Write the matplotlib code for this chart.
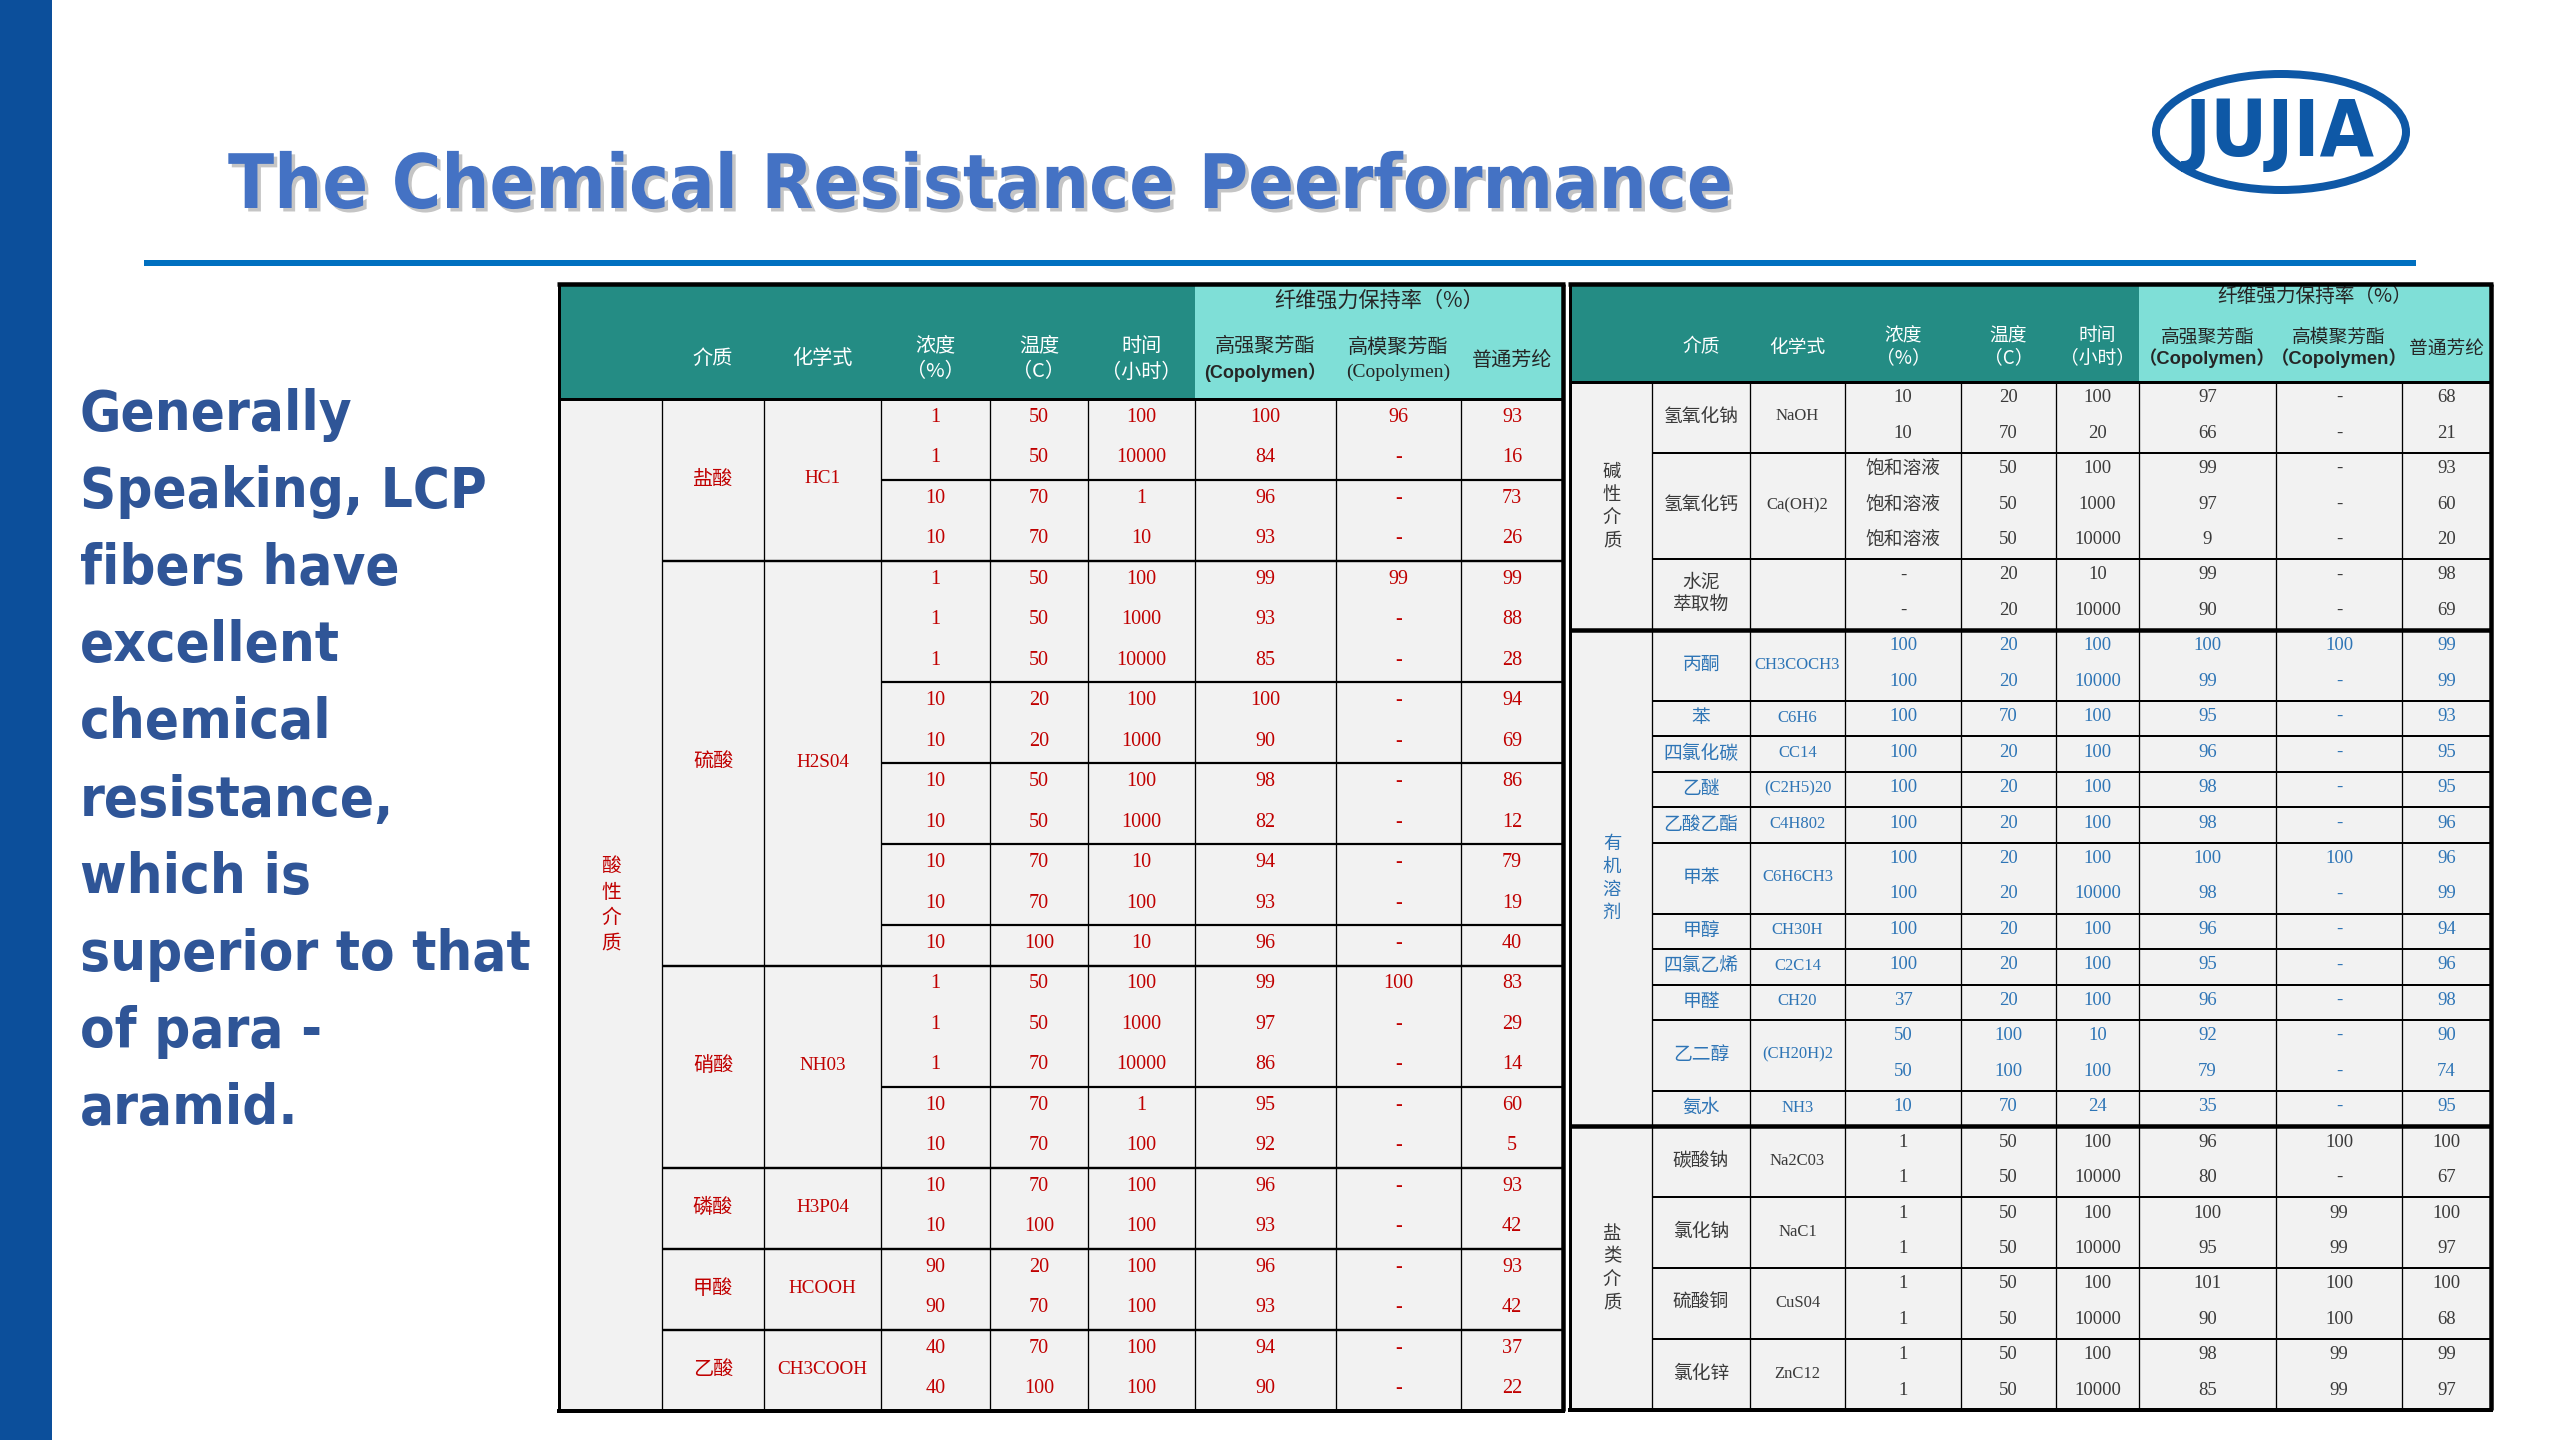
import matplotlib
matplotlib.use('Agg')
import matplotlib.pyplot as plt
from matplotlib.patches import Rectangle, Ellipse
import matplotlib.patheffects as pe
from matplotlib.font_manager import FontProperties

# ------------------------------------------------------------------ data
title_text = 'The Chemical Resistance Peerformance'
side_lines = ['Generally', 'Speaking, LCP', 'fibers have', 'excellent', 'chemical',
              'resistance,', 'which is', 'superior to that', 'of para -', 'aramid.']
logo_text = 'JUJIA'

hdr_media = '介质'
hdr_formula = '化学式'
hdr_conc = ['浓度', '（%）']
hdr_temp = ['温度', '（C）']
hdr_time = ['时间', '（小时）']
hdr_retention = '纤维强力保持率（%）'
hdr_hs = '高强聚芳酯'
hdr_hm = '高模聚芳酯'
hdr_para = '普通芳纶'
left_copoly = ['(Copolymen）', '(Copolymen)']
right_copoly = ['（Copolymen）', '（Copolymen）']

# left table : acid media
acid_category = '酸性介质'
acid_media = ['盐酸', '硫酸', '硝酸', '磷酸', '甲酸', '乙酸']
acid_formula = ['HC1', 'H2S04', 'NH03', 'H3P04', 'HCOOH', 'CH3COOH']
acid_rows = [4, 10, 5, 2, 2, 2]
acid_subgroups = [[2, 2], [3, 2, 2, 2, 1], [3, 2], [2], [2], [2]]
acid_conc = ['1', '1', '10', '10',
             '1', '1', '1', '10', '10', '10', '10', '10', '10', '10',
             '1', '1', '1', '10', '10',
             '10', '10', '90', '90', '40', '40']
acid_temp = ['50', '50', '70', '70',
             '50', '50', '50', '20', '20', '50', '50', '70', '70', '100',
             '50', '50', '70', '70', '70',
             '70', '100', '20', '70', '70', '100']
acid_time = ['100', '10000', '1', '10',
             '100', '1000', '10000', '100', '1000', '100', '1000', '10', '100', '10',
             '100', '1000', '10000', '1', '100',
             '100', '100', '100', '100', '100', '100']
acid_hs = ['100', '84', '96', '93',
           '99', '93', '85', '100', '90', '98', '82', '94', '93', '96',
           '99', '97', '86', '95', '92',
           '96', '93', '96', '93', '94', '90']
acid_hm = ['96', '-', '-', '-',
           '99', '-', '-', '-', '-', '-', '-', '-', '-', '-',
           '100', '-', '-', '-', '-',
           '-', '-', '-', '-', '-', '-']
acid_para = ['93', '16', '73', '26',
             '99', '88', '28', '94', '69', '86', '12', '79', '19', '40',
             '83', '29', '14', '60', '5',
             '93', '42', '93', '42', '37', '22']

# right table : alkali media
alkali_category = '碱性介质'
alkali_media = ['氢氧化钠', '氢氧化钙', '水泥\n萃取物']
alkali_formula = ['NaOH', 'Ca(OH)2', '']
alkali_rows = [2, 3, 2]
alkali_conc = ['10', '10', '饱和溶液', '饱和溶液', '饱和溶液', '-', '-']
alkali_temp = ['20', '70', '50', '50', '50', '20', '20']
alkali_time = ['100', '20', '100', '1000', '10000', '10', '10000']
alkali_hs = ['97', '66', '99', '97', '9', '99', '90']
alkali_hm = ['-', '-', '-', '-', '-', '-', '-']
alkali_para = ['68', '21', '93', '60', '20', '98', '69']

# right table : organic solvents
organic_category = '有机溶剂'
organic_media = ['丙酮', '苯', '四氯化碳', '乙醚', '乙酸乙酯', '甲苯', '甲醇',
                 '四氯乙烯', '甲醛', '乙二醇', '氨水']
organic_formula = ['CH3COCH3', 'C6H6', 'CC14', '(C2H5)20', 'C4H802', 'C6H6CH3',
                   'CH30H', 'C2C14', 'CH20', '(CH20H)2', 'NH3']
organic_rows = [2, 1, 1, 1, 1, 2, 1, 1, 1, 2, 1]
organic_conc = ['100', '100', '100', '100', '100', '100', '100', '100', '100',
                '100', '37', '50', '50', '10']
organic_temp = ['20', '20', '70', '20', '20', '20', '20', '20', '20', '20', '20',
                '100', '100', '70']
organic_time = ['100', '10000', '100', '100', '100', '100', '100', '10000', '100',
                '100', '100', '10', '100', '24']
organic_hs = ['100', '99', '95', '96', '98', '98', '100', '98', '96', '95', '96',
              '92', '79', '35']
organic_hm = ['100', '-', '-', '-', '-', '-', '100', '-', '-', '-', '-', '-', '-', '-']
organic_para = ['99', '99', '93', '95', '95', '96', '96', '99', '94', '96', '98',
                '90', '74', '95']

# right table : salt media
salt_category = '盐类介质'
salt_media = ['碳酸钠', '氯化钠', '硫酸铜', '氯化锌']
salt_formula = ['Na2C03', 'NaC1', 'CuS04', 'ZnC12']
salt_rows = [2, 2, 2, 2]
salt_conc = ['1', '1', '1', '1', '1', '1', '1', '1']
salt_temp = ['50', '50', '50', '50', '50', '50', '50', '50']
salt_time = ['100', '10000', '100', '10000', '100', '10000', '100', '10000']
salt_hs = ['96', '80', '100', '95', '101', '90', '98', '85']
salt_hm = ['100', '-', '99', '99', '100', '100', '99', '99']
salt_para = ['100', '67', '100', '97', '100', '68', '99', '97']

# ------------------------------------------------------------------ style
W, H = 2560, 1440
TEAL_DARK = '#248C84'
TEAL_LIGHT = '#7FDFD7'
BODY_BG = '#F2F2F2'
RED = '#C00000'
BLUE_TXT = '#2E75B6'
DARK_TXT = '#3A3A3A'
CJK = ['Noto Sans CJK SC', 'DejaVu Sans']
NUM = ['Liberation Serif', 'Noto Sans CJK SC', 'DejaVu Sans']


def lw(px):
    return px * 72.0 / 100.0


fig = plt.figure(figsize=(W / 100, H / 100), dpi=100)
fig.patch.set_facecolor('white')
ax = fig.add_axes([0, 0, 1, 1])
ax.set_xlim(0, W)
ax.set_ylim(H, 0)
ax.axis('off')
renderer = fig.canvas.get_renderer()


def fit_width(t, target):
    bb = t.get_window_extent(renderer)
    t.set_fontsize(t.get_fontsize() * target / bb.width)


def hline(x0, x1, y, px, color='black'):
    ax.plot([x0, x1], [y, y], color=color, lw=lw(px), solid_capstyle='butt', zorder=3)


def vline(x, y0, y1, px, color='black'):
    ax.plot([x, x], [y0, y1], color=color, lw=lw(px), solid_capstyle='butt', zorder=3)


# ------------------------------------------------------------------ slide decoration
ax.add_patch(Rectangle((0, 0), 52, H, fc='#0C4F9B', ec='none'))
hline(144, 2416, 263, 6, color='#0070C0')

bold_cond = FontProperties(family='DejaVu Sans', weight='bold', stretch='condensed')
t = ax.text(228, 208, title_text, fontproperties=bold_cond, fontsize=50,
            color='#4472C4', ha='left', va='baseline',
            path_effects=[pe.withSimplePatchShadow(offset=(2.5, -2.5),
                                                   shadow_rgbFace='#7F7F7F', alpha=0.45)])
fit_width(t, 1505)

# side paragraph
side_texts = []
for i, line in enumerate(side_lines):
    st = ax.text(80, 430 + i * 77.1, line, fontproperties=bold_cond, fontsize=40,
                 color='#2F5597', ha='left', va='baseline')
    side_texts.append(st)
ref = side_texts[side_lines.index('superior to that')]
bb = ref.get_window_extent(renderer)
scale = 450 / bb.width
for st in side_texts:
    st.set_fontsize(st.get_fontsize() * scale)

# logo
ax.add_patch(Ellipse((2281, 132), 250, 116, fc='white', ec='#0E58A6', lw=lw(8), zorder=4))
logo_fp = FontProperties(family='DejaVu Sans', weight='bold', stretch='condensed')
lt = ax.text(2280, 134, logo_text, fontproperties=logo_fp, fontsize=60,
             color='#0E58A6', ha='center', va='center', zorder=5)
fit_width(lt, 190)


# ------------------------------------------------------------------ tables
def draw_table(xe, y_top, y_hb, y_bot, sections, hdr, fs_cjk, fs_num, fs_formula, copoly,
               copoly_fs, cat_spacing, grp_px, cat_px):
    nrows = sum(sum(s['rows']) for s in sections)
    rh = (y_bot - y_hb) / nrows
    cx = [(xe[i] + xe[i + 1]) / 2 for i in range(len(xe) - 1)]
    # backgrounds
    ax.add_patch(Rectangle((xe[0], y_hb), xe[-1] - xe[0], y_bot - y_hb, fc=BODY_BG, ec='none'))
    ax.add_patch(Rectangle((xe[0], y_top), xe[6] - xe[0], y_hb - y_top, fc=TEAL_DARK, ec='none'))
    ax.add_patch(Rectangle((xe[6], y_top), xe[-1] - xe[6], y_hb - y_top, fc=TEAL_LIGHT, ec='none'))
    # header texts
    ax.text(cx[1], hdr['single'], hdr_media, family=CJK, fontsize=hdr['fs'], color='white',
            ha='center', va='center')
    ax.text(cx[2], hdr['single'], hdr_formula, family=CJK, fontsize=hdr['fs'], color='white',
            ha='center', va='center')
    for ci, pair in zip([3, 4, 5], [hdr_conc, hdr_temp, hdr_time]):
        ax.text(cx[ci], hdr['two'][0], pair[0], family=CJK, fontsize=hdr['fs'], color='white',
                ha='center', va='center')
        ax.text(cx[ci], hdr['two'][1], pair[1], family=CJK, fontsize=hdr['fs'], color='white',
                ha='center', va='center')
    ax.text((xe[6] + xe[9]) / 2, hdr['ret'], hdr_retention, family=CJK, fontsize=hdr['fs'] * 1.05,
            color='#262626', ha='center', va='center')
    ax.text(cx[6], hdr['two2'][0], hdr_hs, family=CJK, fontsize=hdr['fs'], color='#262626',
            ha='center', va='center')
    ax.text(cx[7], hdr['two2'][0], hdr_hm, family=CJK, fontsize=hdr['fs'], color='#262626',
            ha='center', va='center')
    ax.text(cx[6], hdr['two2'][1], copoly[0], family=['Liberation Sans', 'Noto Sans CJK SC'],
            fontweight='bold', fontsize=copoly_fs[0], color='#262626', ha='center', va='center')
    ax.text(cx[7], hdr['two2'][1], copoly[1], family=copoly_fs[2],
            fontweight=copoly_fs[3], fontsize=copoly_fs[1], color='#262626', ha='center', va='center')
    ax.text(cx[8], hdr['para'], hdr_para, family=CJK, fontsize=hdr['fs'], color='#262626',
            ha='center', va='center')
    # vertical body lines
    for x in xe[1:-1]:
        vline(x, y_hb, y_bot, 1.3)
    r = 0
    for si, s in enumerate(sections):
        sec_start = r
        local = 0
        for gi, (media, formula, nr) in enumerate(zip(s['media'], s['formula'], s['rows'])):
            g0 = r
            yc = y_hb + (g0 + nr / 2) * rh - 1
            ax.text(cx[1], yc, media, family=CJK, fontsize=fs_cjk, color=s['color'],
                    ha='center', va='center', linespacing=1.05, multialignment='center')
            if formula:
                ax.text(cx[2], yc, formula, family=NUM, fontsize=fs_formula, color=s['color'],
                        ha='center', va='center')
            if s.get('sub'):
                acc = g0
                for k in s['sub'][gi][:-1]:
                    acc += k
                    hline(xe[3], xe[-1], y_hb + acc * rh, 2.2)
            for i in range(nr):
                yr = y_hb + (r + i + 0.5) * rh - 2
                vals = [s['conc'][local + i], s['temp'][local + i], s['time'][local + i],
                        s['hs'][local + i], s['hm'][local + i], s['para'][local + i]]
                for ci, v in zip(range(3, 9), vals):
                    fam = CJK if any(ord(ch) > 0x2E80 for ch in v) else NUM
                    fsz = fs_cjk if fam is CJK else fs_num
                    ax.text(cx[ci], yr, v, family=fam, fontsize=fsz, color=s['color'],
                            ha='center', va='center')
            r += nr
            local += nr
            if gi < len(s['media']) - 1:
                hline(xe[1], xe[-1], y_hb + r * rh, grp_px)
        # category label, stacked vertically
        ycat = y_hb + (sec_start + r) / 2 * rh
        n = len(s['category'])
        for k, ch in enumerate(s['category']):
            ax.text(cx[0] + 1, ycat + (k - (n - 1) / 2) * cat_spacing, ch, family=CJK,
                    fontsize=fs_cjk * 0.98, color=s['color'], ha='center', va='center')
        if si < len(sections) - 1:
            hline(xe[0], xe[-1], y_hb + r * rh, cat_px)
    # header bottom and outer border
    hline(xe[0], xe[-1], y_hb, 3)
    hline(xe[0] - 2, xe[-1] + 2, y_top, 4.5)
    hline(xe[0] - 2, xe[-1] + 2, y_bot, 4)
    vline(xe[0], y_top, y_bot, 3)
    vline(xe[-1], y_top, y_bot, 4.5)


left_sections = [dict(category=acid_category, color=RED, media=acid_media, formula=acid_formula,
                      rows=acid_rows, sub=acid_subgroups, conc=acid_conc, temp=acid_temp,
                      time=acid_time, hs=acid_hs, hm=acid_hm, para=acid_para)]
right_sections = [
    dict(category=alkali_category, color=DARK_TXT, media=alkali_media, formula=alkali_formula,
         rows=alkali_rows, conc=alkali_conc, temp=alkali_temp, time=alkali_time,
         hs=alkali_hs, hm=alkali_hm, para=alkali_para),
    dict(category=organic_category, color=BLUE_TXT, media=organic_media, formula=organic_formula,
         rows=organic_rows, conc=organic_conc, temp=organic_temp, time=organic_time,
         hs=organic_hs, hm=organic_hm, para=organic_para),
    dict(category=salt_category, color=DARK_TXT, media=salt_media, formula=salt_formula,
         rows=salt_rows, conc=salt_conc, temp=salt_temp, time=salt_time,
         hs=salt_hs, hm=salt_hm, para=salt_para),
]

draw_table([559, 662, 764, 881, 990, 1088, 1195, 1336, 1461, 1563], 284, 399, 1411,
           left_sections,
           dict(single=359, two=(346, 372), ret=301, two2=(347, 372), para=360, fs=14.5),
           fs_cjk=14.5, fs_num=14.5, fs_formula=13.8, copoly=left_copoly,
           copoly_fs=(13.0, 14.0, ['Liberation Serif', 'Noto Sans CJK SC'], 'normal'),
           cat_spacing=25.5, grp_px=2.4, cat_px=2.4)

draw_table([1570, 1652, 1750, 1845, 1961, 2056, 2139, 2276, 2402, 2491], 284, 382, 1410,
           right_sections,
           dict(single=347, two=(336, 358), ret=297, two2=(337, 358), para=348, fs=13.5),
           fs_cjk=13.5, fs_num=13.5, fs_formula=12.0, copoly=right_copoly,
           copoly_fs=(13.2, 13.2, ['Liberation Sans', 'Noto Sans CJK SC'], 'bold'),
           cat_spacing=23, grp_px=2.0, cat_px=4.5)

fig.savefig('out.png', dpi=100, facecolor='white')
